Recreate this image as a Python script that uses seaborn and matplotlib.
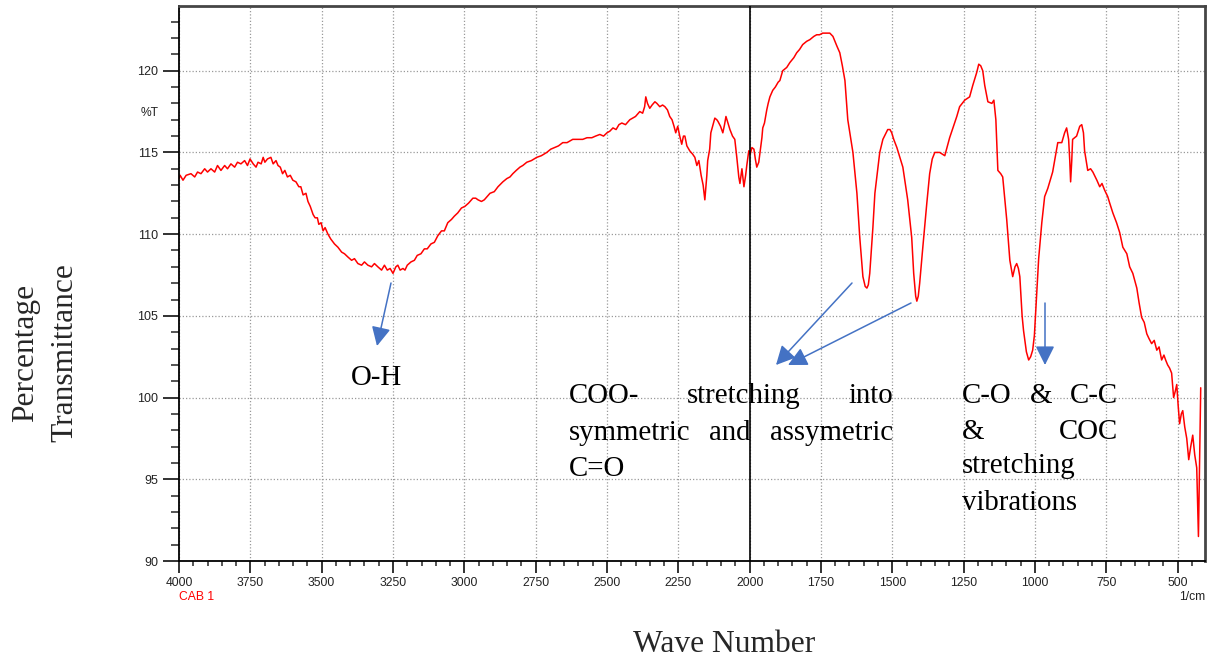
import numpy as np
import pandas as pd
import seaborn as sns
import matplotlib.pyplot as plt
from matplotlib.ticker import MultipleLocator

# FTIR spectrum of sample CAB 1
wavenumber = [
    4000, 3996, 3986, 3975, 3958, 3945, 3935, 3923, 3910, 3900,
    3888, 3875, 3865, 3853, 3840, 3830, 3818, 3805, 3795, 3783,
    3770, 3760, 3751, 3740, 3730, 3723, 3712, 3705, 3699, 3690,
    3678, 3670, 3660, 3653, 3645, 3637, 3629, 3620, 3610, 3601,
    3590, 3580, 3573, 3565, 3555, 3548, 3540, 3530, 3523, 3515,
    3510, 3502, 3495, 3488, 3478, 3468, 3455, 3443, 3430, 3420,
    3408, 3395, 3385, 3373, 3360, 3350, 3338, 3325, 3315, 3303,
    3290, 3280, 3270, 3260, 3250, 3240, 3233, 3225, 3215, 3208,
    3200, 3187, 3175, 3165, 3152, 3140, 3130, 3117, 3105, 3093,
    3080, 3070, 3058, 3045, 3035, 3023, 3010, 2998, 2985, 2970,
    2960, 2952, 2940, 2930, 2920, 2910, 2895, 2882, 2865, 2851,
    2840, 2830, 2818, 2805, 2795, 2781, 2765, 2746, 2730, 2711,
    2697, 2683, 2670, 2655, 2640, 2620, 2605, 2585, 2570, 2553,
    2540, 2525, 2512, 2500, 2490, 2479, 2468, 2458, 2448, 2435,
    2420, 2410, 2400, 2395, 2385, 2375, 2368, 2364, 2358, 2350,
    2342, 2332, 2325, 2315, 2305, 2297, 2288, 2280, 2272, 2265,
    2259, 2252, 2245, 2238, 2232, 2227, 2220, 2210, 2200, 2192,
    2185, 2178, 2170, 2163, 2157, 2150, 2147, 2140, 2136, 2128,
    2122, 2115, 2111, 2102, 2094, 2088, 2083, 2076, 2069, 2060,
    2052, 2045, 2038, 2034, 2027, 2020, 2014, 2010, 2003, 1998,
    1992, 1985, 1980, 1975, 1968, 1962, 1957, 1954, 1948, 1940,
    1935, 1929, 1919, 1910, 1900, 1894, 1884, 1870, 1859, 1845,
    1835, 1825, 1814, 1800, 1789, 1775, 1765, 1755, 1744, 1730,
    1719, 1708, 1694, 1684, 1675, 1666, 1656, 1638, 1624, 1614,
    1603, 1595, 1589, 1584, 1579, 1568, 1561, 1544, 1533, 1516,
    1508, 1502, 1495, 1484, 1463, 1446, 1432, 1425, 1418, 1414,
    1409, 1404, 1393, 1379, 1369, 1360, 1351, 1334, 1325, 1316,
    1299, 1274, 1264, 1246, 1229, 1218, 1204, 1197, 1190, 1183,
    1176, 1165, 1151, 1144, 1137, 1130, 1120, 1113, 1099, 1088,
    1078, 1070, 1064, 1058, 1053, 1045, 1040, 1030, 1022, 1015,
    1008, 1002, 995, 987, 976, 966, 955, 938, 928, 920,
    906, 896, 889, 882, 878, 875, 871, 868, 854, 843,
    836, 830, 826, 815, 805, 797, 783, 773, 765, 756,
    745, 738, 727, 714, 703, 692, 678, 668, 657, 643,
    635, 626, 617, 608, 600, 591, 582, 573, 565, 556,
    548, 542, 535, 528, 521, 514, 508, 503, 498, 493,
    487, 482, 475, 468, 461, 454, 447, 440, 433, 430,
    427, 423, 419,
]
transmittance = [
    113.4, 113.6, 113.3, 113.6, 113.7, 113.5, 113.8, 113.7, 114.0, 113.8,
    114.0, 113.8, 114.2, 113.9, 114.2, 114.0, 114.3, 114.1, 114.4, 114.3,
    114.5, 114.2, 114.6, 114.3, 114.1, 114.4, 114.3, 114.7, 114.4, 114.6,
    114.7, 114.3, 114.5, 114.2, 114.1, 113.7, 113.9, 113.5, 113.6, 113.3,
    113.2, 112.9, 112.9, 112.4, 112.5, 112.0, 111.7, 111.2, 111.0, 111.0,
    110.6, 110.7, 110.2, 110.4, 110.0, 109.7, 109.4, 109.2, 108.9, 108.8,
    108.6, 108.4, 108.5, 108.2, 108.1, 108.3, 108.1, 108.0, 108.2, 108.0,
    107.8, 108.1, 107.8, 107.9, 107.6, 108.0, 108.1, 107.8, 107.9, 107.8,
    108.1, 108.3, 108.4, 108.7, 108.8, 109.1, 109.1, 109.4, 109.5, 109.9,
    110.2, 110.2, 110.7, 110.9, 111.1, 111.3, 111.6, 111.7, 111.9, 112.2,
    112.2, 112.1, 112.0, 112.1, 112.3, 112.5, 112.6, 112.9, 113.2, 113.4,
    113.5, 113.7, 113.9, 114.1, 114.2, 114.4, 114.5, 114.7, 114.8, 115.0,
    115.2, 115.3, 115.4, 115.6, 115.6, 115.8, 115.8, 115.8, 115.9, 115.9,
    116.0, 116.1, 116.0, 116.2, 116.3, 116.5, 116.4, 116.7, 116.8, 116.7,
    117.0, 117.1, 117.2, 117.3, 117.5, 117.4, 117.8, 118.4, 118.0, 117.7,
    117.9, 118.1, 118.0, 117.8, 117.9, 117.8, 117.6, 117.2, 117.0, 116.6,
    116.2, 116.6, 116.0, 115.5, 116.0, 116.0, 115.4, 115.1, 114.9, 114.7,
    114.2, 114.5, 113.6, 113.0, 112.1, 113.6, 114.5, 115.2, 116.2, 116.7,
    117.1, 117.0, 116.9, 116.6, 116.2, 116.7, 117.2, 116.8, 116.4, 116.0,
    115.8, 114.7, 113.5, 113.1, 114.0, 112.9, 113.6, 114.2, 115.1, 114.9,
    115.3, 115.2, 114.6, 114.1, 114.4, 115.2, 115.9, 116.5, 116.8, 117.6,
    118.0, 118.4, 118.8, 119.0, 119.3, 119.4, 120.0, 120.2, 120.5, 120.8,
    121.1, 121.3, 121.6, 121.8, 121.9, 122.1, 122.2, 122.2, 122.3, 122.3,
    122.3, 122.1, 121.5, 121.1, 120.3, 119.4, 117.0, 115.0, 112.5, 109.8,
    107.4, 106.8, 106.7, 106.9, 107.6, 110.4, 112.5, 115.0, 115.8, 116.4,
    116.4, 116.2, 115.8, 115.3, 114.1, 112.1, 109.8, 107.6, 106.2, 105.9,
    106.2, 107.0, 109.2, 111.9, 113.7, 114.6, 115.0, 115.0, 114.9, 114.8,
    115.9, 117.2, 117.8, 118.2, 118.4, 119.1, 119.9, 120.4, 120.3, 120.0,
    119.1, 118.1, 118.0, 118.2, 117.0, 113.9, 113.7, 113.5, 110.9, 108.4,
    107.4, 108.0, 108.2, 107.9, 107.4, 105.0, 104.1, 102.8, 102.3, 102.5,
    102.9, 103.8, 106.0, 108.5, 110.7, 112.3, 112.8, 113.8, 114.8, 115.6,
    115.6, 116.2, 116.5, 115.8, 114.5, 113.2, 114.5, 115.8, 116.0, 116.6,
    116.7, 116.2, 115.1, 113.9, 114.0, 113.8, 113.3, 112.9, 113.1, 112.7,
    112.3, 111.9, 111.3, 110.7, 110.1, 109.2, 108.8, 108.0, 107.6, 106.7,
    105.8, 104.9, 104.6, 103.9, 103.6, 103.3, 103.5, 102.9, 103.1, 102.3,
    102.6, 102.3, 102.0, 101.8, 101.5, 100.0, 100.4, 100.8, 99.5, 98.4,
    99.0, 99.2, 98.2, 97.5, 96.2, 97.0, 97.7, 96.5, 95.7, 93.5,
    91.5, 96.0, 100.6,
]
assert len(wavenumber) == len(transmittance)

x_ticks = [4000, 3750, 3500, 3250, 3000, 2750, 2500, 2250, 2000, 1750, 1500, 1250, 1000, 750, 500]
y_ticks = [90, 95, 100, 105, 110, 115, 120]
divider_wn = 2000

df = pd.DataFrame({"Wave Number": wavenumber, "%T": transmittance})

sns.set_style("white")
plt.rcParams["font.family"] = ["Liberation Sans", "DejaVu Sans"]

W, H = 1208, 659
fig = plt.figure(figsize=(W / 100, H / 100), dpi=100)
ax = fig.add_axes([179 / W, 1 - 561 / H, (1205 - 179) / W, (561 - 6) / H])

sns.lineplot(data=df, x="Wave Number", y="%T", sort=False, estimator=None,
             color="#ff0000", linewidth=1.1, ax=ax)
ax.axvline(divider_wn, color="black", linewidth=1.2, zorder=3)

ax.set_xlim(4000, 404)
ax.set_ylim(90, 123.96)
ax.set_xticks(x_ticks)
ax.set_yticks(y_ticks)
ax.xaxis.set_minor_locator(MultipleLocator(50))
ax.yaxis.set_minor_locator(MultipleLocator(1))
ax.set_xlabel("")
ax.set_ylabel("")
ax.tick_params(axis="x", which="major", direction="out", length=8.6, width=1.3,
               pad=3, labelsize=8.7, colors="#222222", bottom=True)
ax.tick_params(axis="x", which="minor", direction="out", length=3.8, width=1.1, bottom=True)
ax.tick_params(axis="y", which="major", direction="out", length=11.5, width=1.3,
               pad=3.5, labelsize=9, colors="#222222", left=True)
ax.tick_params(axis="y", which="minor", direction="out", length=5.5, width=1.1, left=True)

ax.grid(True, which="major", color="#9a9a9a", linestyle=(0, (1, 1.6)), linewidth=0.9)
for side in ["left", "bottom"]:
    ax.spines[side].set_color("black")
    ax.spines[side].set_linewidth(1.3)
for side in ["top", "right"]:
    ax.spines[side].set_color("#454545")
    ax.spines[side].set_linewidth(2)


def fp(x, y):
    return x / W, 1 - y / H


serif = ["Liberation Serif", "DejaVu Serif"]
ann = dict(family=serif, fontsize=20.8, color="black", va="baseline")

fig.text(*fp(150, 113), "%T", fontsize=8.7, ha="center", va="center", color="#222222")
fig.text(*fp(179, 597), "CAB 1", fontsize=8.7, ha="left", va="center", color="#ff0000")
fig.text(*fp(1205, 597), "1/cm", fontsize=8.7, ha="right", va="center", color="#222222")

fig.text(*fp(724, 652), "Wave Number", family=serif, fontsize=22.7, ha="center", va="baseline")
fig.text(*fp(33, 353), "Percentage", family=serif, fontsize=22.7, rotation=90,
         rotation_mode="anchor", ha="center", va="baseline")
fig.text(*fp(72, 353), "Transmittance", family=serif, fontsize=22.7, rotation=90,
         rotation_mode="anchor", ha="center", va="baseline")

# annotations (justified text set word by word)
fig.text(*fp(351, 385), "O-H", ha="left", **ann)

fig.text(*fp(569, 403), "COO-", ha="left", **ann)
fig.text(*fp(687, 403), "stretching", ha="left", **ann)
fig.text(*fp(893, 403), "into", ha="right", **ann)
fig.text(*fp(569, 440), "symmetric", ha="left", **ann)
fig.text(*fp(709, 440), "and", ha="left", **ann)
fig.text(*fp(893, 440), "assymetric", ha="right", **ann)
fig.text(*fp(569, 476), "C=O", ha="left", **ann)

fig.text(*fp(962, 403), "C-O", ha="left", **ann)
fig.text(*fp(1030, 403), "&", ha="left", **ann)
fig.text(*fp(1118, 403), "C-C", ha="right", **ann)
fig.text(*fp(962, 439), "&", ha="left", **ann)
fig.text(*fp(1118, 439), "COC", ha="right", **ann)
fig.text(*fp(962, 473), "stretching", ha="left", **ann)
fig.text(*fp(962, 510), "vibrations", ha="left", **ann)

arrow = dict(arrowstyle="-|>,head_length=0.58,head_width=0.29", color="#4472c4",
             lw=1.1, shrinkA=0, shrinkB=0, mutation_scale=20)
for (x0, y0), (x1, y1) in [((391, 283), (377, 346)),
                           ((852, 283), (776, 365)),
                           ((911, 303), (788, 365)),
                           ((1045, 303), (1045, 365))]:
    ax.annotate("", xy=(x1, H - y1), xytext=(x0, H - y0),
                xycoords="figure pixels", textcoords="figure pixels",
                arrowprops=arrow, annotation_clip=False)

fig.savefig("out.png", dpi=100)
